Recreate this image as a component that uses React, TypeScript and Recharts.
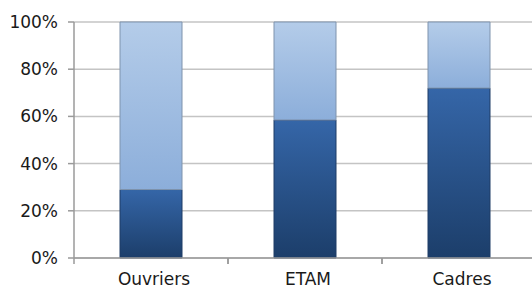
import React from 'react';
import { BarChart, Bar, XAxis, YAxis, CartesianGrid } from 'recharts';

const categories = ['Ouvriers', 'ETAM', 'Cadres'];
const darkShare = [29, 58.5, 72];
const lightShare = [71, 41.5, 28];
const yTicks = [0, 20, 40, 60, 80, 100];

const data = categories.map((name, i) => ({
    name,
    dark: darkShare[i],
    light: lightShare[i],
}));

const CHART_W = 540;
const CHART_H = 291;
const MARGIN = { top: 22, right: 4, left: 0, bottom: 0 };
const Y_W = 74;
const X_H = 33;
const HALF_BAND = (CHART_W - MARGIN.left - MARGIN.right - Y_W) / categories.length / 2;

const XTick = ({ x, y, payload }: any) => (
    <g>
        <line x1={x - HALF_BAND} y1={y - 8} x2={x - HALF_BAND} y2={y - 2} stroke="#9a9a9a" strokeWidth={1.5} />
        <line x1={x + HALF_BAND} y1={y - 8} x2={x + HALF_BAND} y2={y - 2} stroke="#9a9a9a" strokeWidth={1.5} />
        <text x={x + 3} y={y + 19} textAnchor="middle" fill="#1a1a1a" fontSize={17} fontFamily="DejaVu Sans">
            {payload.value}
        </text>
    </g>
);

export default function App() {
    return (
        <div style={{ position: 'absolute', left: 0, top: 0, width: 532, height: 291, overflow: 'hidden', background: '#fff' }}>
            <BarChart width={CHART_W} height={CHART_H} data={data} margin={MARGIN} barSize={62}>
                <defs>
                    <linearGradient id="gDark" x1="0" y1="0" x2="0" y2="1">
                        <stop offset="0%" stopColor="#3566a8" />
                        <stop offset="100%" stopColor="#1c3e6a" />
                    </linearGradient>
                    <linearGradient id="gLight" x1="0" y1="0" x2="0" y2="1">
                        <stop offset="0%" stopColor="#b4cce9" />
                        <stop offset="100%" stopColor="#8caeda" />
                    </linearGradient>
                </defs>
                <CartesianGrid vertical={false} stroke="#c4c4c4" strokeWidth={1.5} />
                <XAxis
                    dataKey="name"
                    height={X_H}
                    axisLine={{ stroke: '#9a9a9a', strokeWidth: 1.5 }}
                    tickLine={false}
                    tick={<XTick />}
                    interval={0}
                />
                <YAxis
                    width={Y_W}
                    domain={[0, 100]}
                    ticks={yTicks}
                    tickFormatter={(v) => `${v}%`}
                    axisLine={{ stroke: '#9a9a9a', strokeWidth: 1.5 }}
                    tickLine={{ stroke: '#9a9a9a', strokeWidth: 1.5 }}
                    tickSize={6}
                    tickMargin={10}
                    tick={{ fontSize: 17, fill: '#1a1a1a', fontFamily: 'DejaVu Sans' }}
                />
                <Bar dataKey="dark" stackId="a" fill="url(#gDark)" stroke="#1f3d66" strokeWidth={1} isAnimationActive={false} />
                <Bar dataKey="light" stackId="a" fill="url(#gLight)" stroke="#7f93ad" strokeWidth={1} isAnimationActive={false} />
            </BarChart>
        </div>
    );
}
